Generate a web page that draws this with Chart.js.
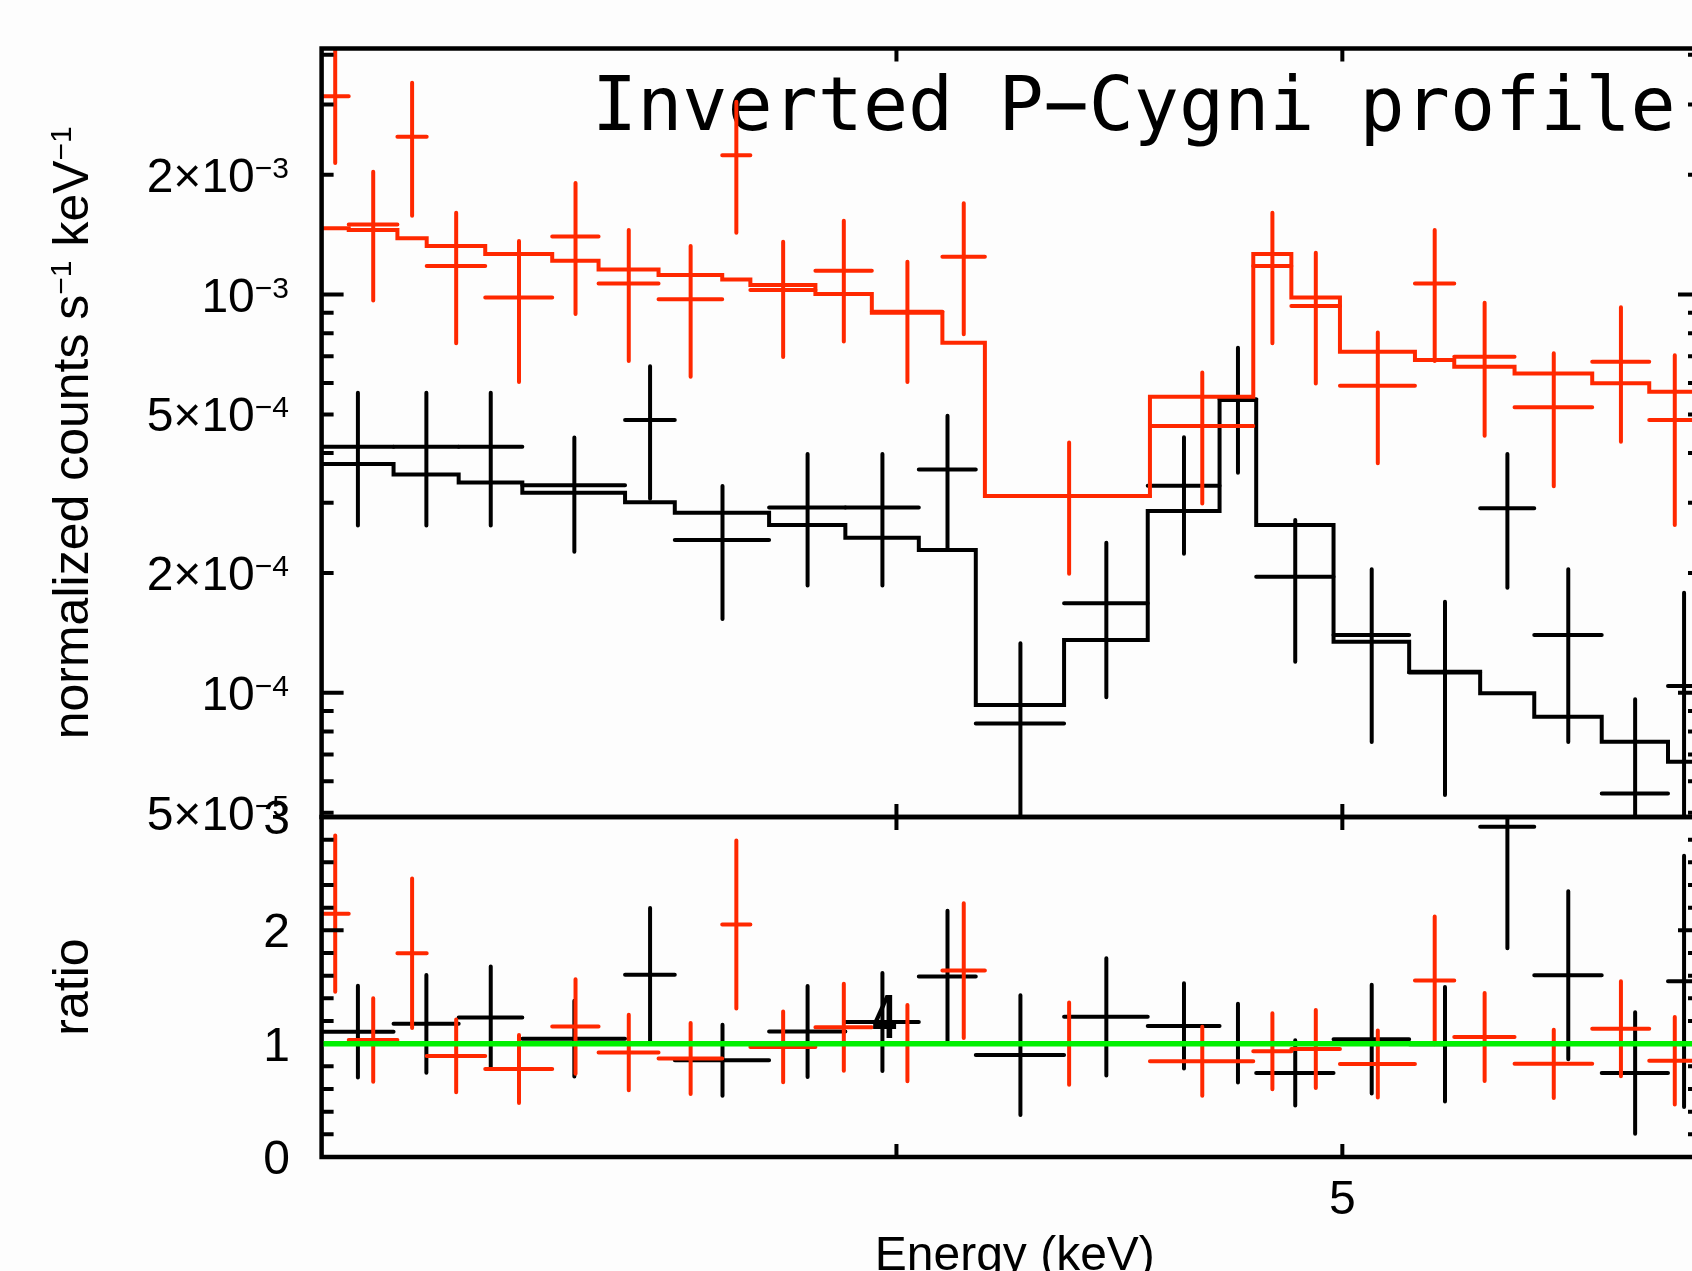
<!DOCTYPE html>
<html>
<head>
<meta charset="utf-8">
<script src="https://cdn.jsdelivr.net/npm/chart.js@4.4.1/dist/chart.umd.min.js"></script>
<style>
  html, body { margin: 0; padding: 0; background: #fdfdfd; overflow: hidden; }
  #wrap { position: relative; width: 1720px; height: 1271px; }
  #wrap canvas { position: absolute; left: 0; top: 0; }
</style>
</head>
<body>
<div id="wrap">
  <canvas id="spec" width="1720" height="1271"></canvas>
  <canvas id="ratio" width="1720" height="1271"></canvas>
</div>
<script>
// two spectra: bin edges (keV), count rate, 1 sigma error, folded model
const blackEdges = [3.000, 3.110, 3.213, 3.317, 3.492, 3.580, 3.753, 3.899, 4.045, 4.162,
                    4.350, 4.536, 4.702, 4.789, 4.978, 5.170, 5.357, 5.504, 5.693, 5.885, 5.980];
const blackRate  = [4.15e-4, 4.15e-4, 4.15e-4, 3.32e-4, 4.84e-4, 2.42e-4, 2.92e-4, 2.92e-4, 3.64e-4, 8.38e-5,
                    1.678e-4, 3.31e-4, 5.46e-4, 1.957e-4, 1.397e-4, 1.124e-4, 2.906e-4, 1.397e-4, 5.59e-5, 1.04e-4];
const blackErr   = [1.52e-4, 1.52e-4, 1.52e-4, 1.06e-4, 1.77e-4, 8.87e-5, 1.06e-4, 1.06e-4, 1.325e-4, 4.93e-5,
                    7.03e-5, 1.075e-4, 1.89e-4, 7.6e-5, 6.45e-5, 5.7e-5, 1.07e-4, 6.45e-5, 4.04e-5, 7.44e-5];
const blackModel = [3.755e-4, 3.533e-4, 3.373e-4, 3.179e-4, 3.008e-4, 2.834e-4, 2.638e-4, 2.451e-4, 2.284e-4, 9.32e-5,
                    1.357e-4, 2.862e-4, 5.437e-4, 2.638e-4, 1.344e-4, 1.13e-4, 9.97e-5, 8.71e-5, 7.54e-5, 6.71e-5];

const redEdges = [3.000, 3.041, 3.116, 3.162, 3.256, 3.367, 3.446, 3.551, 3.666, 3.718, 3.841, 3.951,
                  4.093, 4.181, 4.541, 4.782, 4.874, 4.994, 5.185, 5.288, 5.450, 5.666, 5.830, 5.980];
const redRate  = [3.15e-3, 1.50e-3, 2.49e-3, 1.18e-3, 9.83e-4, 1.40e-3, 1.067e-3, 9.73e-4, 2.24e-3, 1.027e-3, 1.148e-3, 9.06e-4,
                  1.245e-3, 3.12e-4, 4.68e-4, 1.18e-3, 9.36e-4, 5.90e-4, 1.067e-3, 6.98e-4, 5.21e-4, 6.78e-4, 4.84e-4];
const redErr   = [1.01e-3, 5.34e-4, 9.13e-4, 4.25e-4, 3.8e-4, 5.06e-4, 3.86e-4, 3.51e-4, 8.09e-4, 3.3e-4, 3.85e-4, 3.03e-4,
                  4.5e-4, 1.13e-4, 1.69e-4, 4.25e-4, 3.38e-4, 2.13e-4, 3.86e-4, 2.56e-4, 1.91e-4, 2.51e-4, 2.2e-4];
const redModel = [1.467e-3, 1.453e-3, 1.385e-3, 1.324e-3, 1.265e-3, 1.216e-3, 1.157e-3, 1.12e-3, 1.092e-3, 1.057e-3, 1.003e-3, 9.01e-4,
                  7.57e-4, 3.12e-4, 5.54e-4, 1.265e-3, 9.83e-4, 7.19e-4, 6.85e-4, 6.59e-4, 6.34e-4, 5.99e-4, 5.70e-4];

// axis ranges and tick labels
const energyRange = [3.0, 5.98];
const specRange = [4.877e-5, 4.15e-3];
const ratioRange = [0, 3];
const unityRatio = 1;
const energyTicks = [4, 5];
const specMajor = [1e-4, 1e-3];
const specMinor = [5e-5, 6e-5, 7e-5, 8e-5, 9e-5, 2e-4, 3e-4, 4e-4, 5e-4, 6e-4, 7e-4, 8e-4, 9e-4, 2e-3, 3e-3, 4e-3];
const specLabels = [[2e-3, '2×10', '−3'], [1e-3, '10', '−3'], [5e-4, '5×10', '−4'],
                    [2e-4, '2×10', '−4'], [1e-4, '10', '−4'], [5e-5, '5×10', '−5']];
const ratioTicks = [0, 1, 2, 3];

const RED = '#ff2800', BLACK = '#000000', GREEN = '#00f000';
const FONT = '"Liberation Sans", Arial, Helvetica, sans-serif';

function stepPoints(edges, vals) {
  const pts = vals.map((v, i) => ({x: edges[i], y: v}));
  pts.push({x: edges[edges.length - 1], y: vals[vals.length - 1]});
  return pts;
}

function crosses(edges, vals, errs) {
  return vals.map((v, i) => ({lo: edges[i], hi: edges[i + 1], mid: (edges[i] + edges[i + 1]) / 2, y: v, err: errs[i]}));
}

const blackRatio = blackRate.map((v, i) => v / blackModel[i]);
const blackRatioErr = blackErr.map((e, i) => e / blackModel[i]);
const redRatio = redRate.map((v, i) => v / redModel[i]);
const redRatioErr = redErr.map((e, i) => e / redModel[i]);

function drawCrosses(chart, pts, color) {
  const {ctx, chartArea: a} = chart;
  const x = chart.scales.x, y = chart.scales.y;
  ctx.save();
  ctx.beginPath();
  ctx.rect(a.left, a.top, a.right - a.left, a.bottom - a.top);
  ctx.clip();
  ctx.strokeStyle = color;
  ctx.lineWidth = 4;
  ctx.lineCap = 'round';
  pts.forEach(p => {
    const x0 = x.getPixelForValue(p.lo), x1 = x.getPixelForValue(p.hi), xm = x.getPixelForValue(p.mid);
    const yv = y.getPixelForValue(p.y);
    const yTop = y.getPixelForValue(p.y + p.err);
    const low = p.y - p.err;
    const yBot = (y.type === 'logarithmic' && low <= 0) ? a.bottom + 20 : y.getPixelForValue(low);
    ctx.beginPath();
    ctx.moveTo(x0, yv); ctx.lineTo(x1, yv);
    ctx.moveTo(xm, yTop); ctx.lineTo(xm, yBot);
    ctx.stroke();
  });
  ctx.restore();
}

function setFont(ctx, size, weight) {
  ctx.font = (weight ? weight + ' ' : '') + size + 'px ' + FONT;
}

// text with superscripts: parts = [text, size, raise]
function richText(ctx, parts, x, y, align) {
  let total = 0;
  parts.forEach(p => { setFont(ctx, p[1]); total += ctx.measureText(p[0]).width; });
  let cx = align === 'right' ? x - total : align === 'center' ? x - total / 2 : x;
  ctx.textAlign = 'left';
  ctx.textBaseline = 'alphabetic';
  parts.forEach(p => {
    setFont(ctx, p[1]);
    ctx.fillText(p[0], cx, y - (p[2] || 0));
    cx += ctx.measureText(p[0]).width;
  });
}

function frame(ctx, a) {
  ctx.strokeStyle = BLACK;
  ctx.lineWidth = 4.5;
  ctx.lineCap = 'butt';
  ctx.strokeRect(a.left, a.top, a.right - a.left, a.bottom - a.top);
}

function yTicks(ctx, a, scale, values, len) {
  ctx.lineWidth = 4;
  ctx.beginPath();
  values.forEach(v => {
    const py = scale.getPixelForValue(v);
    ctx.moveTo(a.left, py); ctx.lineTo(a.left + len, py);
    ctx.moveTo(a.right, py); ctx.lineTo(a.right - len, py);
  });
  ctx.stroke();
}

function xTicks(ctx, a, scale, values, len) {
  ctx.lineWidth = 4;
  ctx.beginPath();
  values.forEach(v => {
    const px = scale.getPixelForValue(v);
    ctx.moveTo(px, a.top); ctx.lineTo(px, a.top + len);
    ctx.moveTo(px, a.bottom); ctx.lineTo(px, a.bottom - len);
  });
  ctx.stroke();
}

const crossPlugin = {
  id: 'crossPlugin',
  beforeDatasetDraw(chart, args) {
    const ds = chart.data.datasets[args.index];
    if (ds.crosses) drawCrosses(chart, ds.crosses, ds.crossColor);
  }
};

const specAxes = {
  id: 'specAxes',
  beforeDatasetsDraw(chart) {
    const ctx = chart.ctx;
    ctx.save();
    ctx.fillStyle = BLACK;
    ctx.font = '75px "DejaVu Sans Mono", monospace';
    ctx.textAlign = 'left';
    ctx.textBaseline = 'alphabetic';
    ctx.fillText('Inverted P−Cygni profile', 592, 129.5);
    ctx.restore();
  },
  afterDraw(chart) {
    const {ctx, chartArea: a} = chart;
    const x = chart.scales.x, y = chart.scales.y;
    ctx.save();
    frame(ctx, a);
    yTicks(ctx, a, y, specMajor, 22);
    yTicks(ctx, a, y, specMinor, 12);
    xTicks(ctx, a, x, energyTicks, 13);
    ctx.fillStyle = BLACK;
    specLabels.forEach(l => {
      richText(ctx, [[l[1], 48], [l[2], 30, 14]], 289, y.getPixelForValue(l[0]) + 17, 'right');
    });
    ctx.translate(88, (a.top + a.bottom) / 2);
    ctx.rotate(-Math.PI / 2);
    richText(ctx, [['normalized counts s', 50], ['−1', 30, 17], [' keV', 50], ['−1', 30, 17]], 0, 0, 'center');
    ctx.restore();
  }
};

const ratioAxes = {
  id: 'ratioAxes',
  afterDraw(chart) {
    const {ctx, chartArea: a} = chart;
    const x = chart.scales.x, y = chart.scales.y;
    const minor = [];
    for (let v = 0.2; v < 3; v += 0.2) {
      if (Math.abs(v - Math.round(v)) > 0.05) minor.push(v);
    }
    ctx.save();
    frame(ctx, a);
    yTicks(ctx, a, y, ratioTicks, 22);
    yTicks(ctx, a, y, minor, 12);
    xTicks(ctx, a, x, energyTicks, 13);
    ctx.fillStyle = BLACK;
    ratioTicks.forEach(v => {
      setFont(ctx, 48);
      ctx.textAlign = 'right';
      ctx.textBaseline = 'alphabetic';
      ctx.fillText(String(v), 290, y.getPixelForValue(v) + 17);
    });
    // energy tick labels
    setFont(ctx, 48);
    ctx.textAlign = 'center';
    ctx.fillText('5', x.getPixelForValue(5), 1214);
    ctx.save();
    ctx.translate(x.getPixelForValue(4) - 12, 1038);
    ctx.scale(0.68, 1);
    setFont(ctx, 63, 'bold');
    ctx.fillText('4', 0, 0);
    ctx.restore();
    setFont(ctx, 48);
    ctx.fillText('Energy (keV)', (a.left + a.right) / 2 + 4, 1270);
    ctx.save();
    ctx.translate(88, (a.top + a.bottom) / 2);
    ctx.rotate(-Math.PI / 2);
    richText(ctx, [['ratio', 50]], 0, 0, 'center');
    ctx.restore();

    // unity line goes over the crosses and the tick marks
    const py = y.getPixelForValue(unityRatio);
    ctx.strokeStyle = GREEN;
    ctx.lineWidth = 5.5;
    ctx.beginPath();
    ctx.moveTo(a.left + 2, py);
    ctx.lineTo(a.right, py);
    ctx.stroke();
    ctx.restore();
  }
};

const common = {
  responsive: false,
  animation: false,
  events: [],
  devicePixelRatio: 1,
  plugins: { legend: { display: false }, tooltip: { enabled: false }, title: { display: false } }
};

new Chart(document.getElementById('spec'), {
  type: 'line',
  data: {
    datasets: [
      {
        label: 'red model',
        data: stepPoints(redEdges, redModel),
        crosses: crosses(redEdges, redRate, redErr),
        crossColor: RED,
        borderColor: RED, borderWidth: 4, pointRadius: 0, fill: false, stepped: true, order: 1
      },
      {
        label: 'black model',
        data: stepPoints(blackEdges, blackModel),
        crosses: crosses(blackEdges, blackRate, blackErr),
        crossColor: BLACK,
        borderColor: BLACK, borderWidth: 4, pointRadius: 0, fill: false, stepped: true, order: 2
      }
    ]
  },
  options: Object.assign({}, common, {
    layout: { padding: { left: 321.6, right: 20, top: 48.5, bottom: 454 } },
    scales: {
      x: { type: 'logarithmic', min: energyRange[0], max: energyRange[1], display: false },
      y: { type: 'logarithmic', min: specRange[0], max: specRange[1], display: false }
    }
  }),
  plugins: [crossPlugin, specAxes]
});

new Chart(document.getElementById('ratio'), {
  type: 'line',
  data: {
    datasets: [
      {
        label: 'red ratio',
        data: redRatio.map((r, i) => ({x: (redEdges[i] + redEdges[i + 1]) / 2, y: r})),
        crosses: crosses(redEdges, redRatio, redRatioErr),
        crossColor: RED,
        showLine: false, pointRadius: 0, order: 1
      },
      {
        label: 'black ratio',
        data: blackRatio.map((r, i) => ({x: (blackEdges[i] + blackEdges[i + 1]) / 2, y: r})),
        crosses: crosses(blackEdges, blackRatio, blackRatioErr),
        crossColor: BLACK,
        showLine: false, pointRadius: 0, order: 2
      }
    ]
  },
  options: Object.assign({}, common, {
    layout: { padding: { left: 321.6, right: 20, top: 817, bottom: 114 } },
    scales: {
      x: { type: 'logarithmic', min: energyRange[0], max: energyRange[1], display: false },
      y: { type: 'linear', min: ratioRange[0], max: ratioRange[1], display: false }
    }
  }),
  plugins: [crossPlugin, ratioAxes]
});
</script>
</body>
</html>
